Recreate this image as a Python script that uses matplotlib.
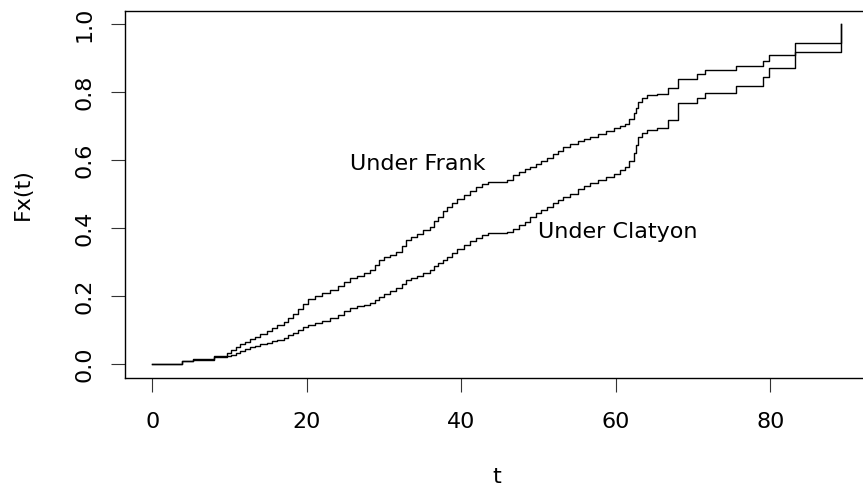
import matplotlib
matplotlib.use("Agg")
from matplotlib import pyplot as plt

# jump times shared by both curves
t = [0, 3.9, 5.3, 8.0, 9.7, 10.2, 10.8, 11.4, 12.0, 12.6, 13.3, 14.0, 14.8,
     15.5, 16.2, 17.0, 17.6, 18.2, 18.9, 19.5, 20.2, 21.0, 22.0, 23.0, 24.0,
     24.8, 25.6, 26.5, 27.4, 28.2, 28.8, 29.3, 30.0, 30.8, 31.6, 32.3, 32.9,
     33.5, 34.3, 35.1, 35.9, 36.5, 37.0, 37.6, 38.1, 38.8, 39.5, 40.3, 41.1,
     41.9, 42.7, 43.5, 45.9, 46.7, 47.5, 48.2, 48.9, 49.6, 50.3, 51.1, 51.8,
     52.5, 53.2, 54.1, 55.1, 55.9, 56.7, 57.7, 58.7, 59.7, 60.5, 61.2, 61.7,
     62.3, 62.6, 62.9, 63.4, 64.0, 65.3, 66.8, 68.1, 70.5, 71.5, 75.6, 79.0,
     79.8, 83.2, 89.2]

frank = [0.0, 0.010, 0.014, 0.024, 0.033, 0.041, 0.050, 0.060, 0.066, 0.073,
         0.080, 0.088, 0.097, 0.105, 0.114, 0.125, 0.135, 0.148, 0.162, 0.176,
         0.190, 0.200, 0.210, 0.218, 0.230, 0.242, 0.252, 0.260, 0.268, 0.277,
         0.292, 0.306, 0.314, 0.322, 0.331, 0.348, 0.365, 0.375, 0.384, 0.394,
         0.404, 0.420, 0.434, 0.450, 0.463, 0.475, 0.486, 0.497, 0.510, 0.520,
         0.530, 0.537, 0.542, 0.555, 0.565, 0.573, 0.581, 0.590, 0.598, 0.606,
         0.617, 0.628, 0.640, 0.647, 0.657, 0.663, 0.669, 0.677, 0.686, 0.694,
         0.700, 0.707, 0.720, 0.738, 0.755, 0.772, 0.782, 0.792, 0.796, 0.811,
         0.838, 0.854, 0.864, 0.878, 0.892, 0.910, 0.944, 1.0]

clayton = [0.0, 0.008, 0.012, 0.020, 0.024, 0.027, 0.033, 0.038, 0.044, 0.049,
           0.054, 0.058, 0.063, 0.067, 0.071, 0.076, 0.084, 0.092, 0.100, 0.108,
           0.115, 0.121, 0.128, 0.135, 0.145, 0.155, 0.164, 0.170, 0.174, 0.179,
           0.188, 0.196, 0.205, 0.214, 0.223, 0.236, 0.247, 0.254, 0.260, 0.267,
           0.278, 0.288, 0.296, 0.306, 0.316, 0.328, 0.339, 0.350, 0.362, 0.372,
           0.380, 0.385, 0.390, 0.398, 0.408, 0.418, 0.434, 0.445, 0.454, 0.463,
           0.473, 0.483, 0.492, 0.500, 0.515, 0.524, 0.532, 0.541, 0.550, 0.559,
           0.570, 0.581, 0.598, 0.620, 0.645, 0.669, 0.680, 0.689, 0.696, 0.718,
           0.767, 0.782, 0.798, 0.818, 0.845, 0.872, 0.919, 1.0]

plt.rcParams['font.family'] = 'DejaVu Sans'
fig = plt.figure(figsize=(8.63, 4.90), dpi=100)
ax = fig.add_axes([0.1445, 0.2294, 0.8625, 0.7488])

ax.plot(t, frank, drawstyle='steps-post', color='black', lw=1.0)
ax.plot(t, clayton, drawstyle='steps-post', color='black', lw=1.0)

ax.text(34.4, 0.571, "Under Frank", ha='center', va='baseline', fontsize=16)
ax.text(60.2, 0.370, "Under Clatyon", ha='center', va='baseline', fontsize=16)

ax.set_xlim(-3.57, 92.77)
ax.set_ylim(-0.04, 1.04)
ax.set_xticks([0, 20, 40, 60, 80])
ax.set_yticks([0.0, 0.2, 0.4, 0.6, 0.8, 1.0])
ax.set_yticklabels(["0.0", "0.2", "0.4", "0.6", "0.8", "1.0"], rotation=90, va='center')
ax.tick_params(axis='both', labelsize=16, length=10, width=0.8, color='#333333')
ax.tick_params(axis='x', pad=15)
ax.tick_params(axis='y', pad=12)
for s in ax.spines.values():
    s.set_linewidth(1.0)

ax.set_xlabel("t", fontsize=16)
ax.set_ylabel("Fx(t)", fontsize=16)
ax.xaxis.set_label_coords(0.5, -0.2437)
ax.yaxis.set_label_coords(-0.1228, 0.5)

fig.savefig("out.png", dpi=100)
